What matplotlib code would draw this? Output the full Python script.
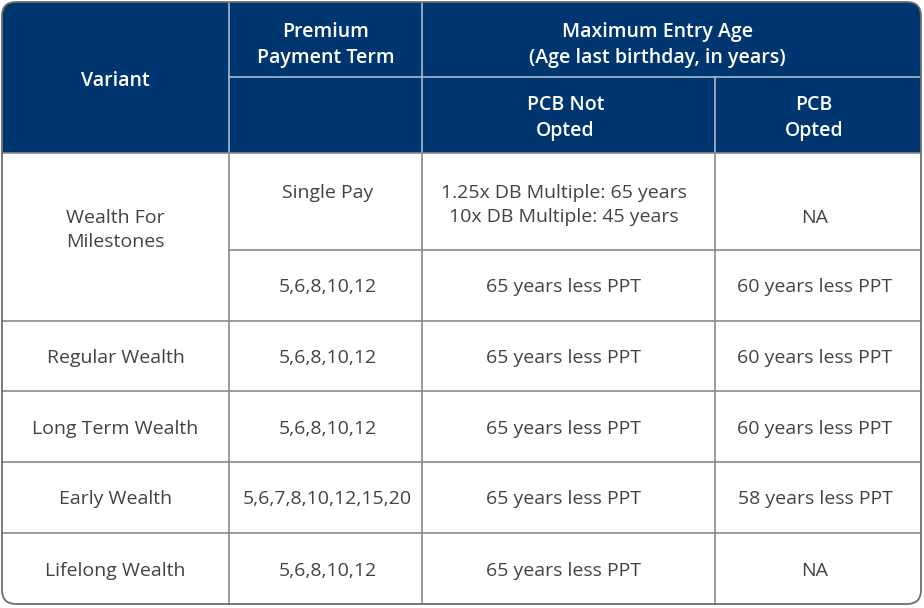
import matplotlib.pyplot as plt
from matplotlib.patches import FancyBboxPatch, Rectangle

plt.rcParams['font.family'] = ['Open Sans', 'DejaVu Sans']

# table content
variants = ["Wealth For\nMilestones", "Regular Wealth", "Long Term Wealth",
            "Early Wealth", "Lifelong Wealth"]
ppt = ["Single Pay", "5,6,8,10,12", "5,6,8,10,12", "5,6,8,10,12",
       "5,6,7,8,10,12,15,20", "5,6,8,10,12"]
pcb_not = ["1.25x DB Multiple: 65 years\n10x DB Multiple: 45 years",
           "65 years less PPT", "65 years less PPT", "65 years less PPT",
           "65 years less PPT", "65 years less PPT"]
pcb_opted = ["NA", "60 years less PPT", "60 years less PPT", "60 years less PPT",
             "58 years less PPT", "NA"]
head_top = ["Variant", "Premium\nPayment Term",
            "Maximum Entry Age\n(Age last birthday, in years)"]
head_sub = ["PCB Not\nOpted", "PCB\nOpted"]

# layout in pixels
W, H = 924, 608
cols = [2, 229, 422, 715, 921]
head_rows = [2, 77, 153]
body_rows = [153, 250, 321, 391, 462, 533, 604]

navy = '#003670'
txt = '#46423f'
grid = '#8a8a8a'
head_line = '#a9b8cc'

fig = plt.figure(figsize=(W / 100, H / 100), dpi=100)
ax = fig.add_axes([0, 0, 1, 1])
ax.set_xlim(0, W)
ax.set_ylim(H, 0)
ax.axis('off')

outline = FancyBboxPatch((cols[0], head_rows[0]), cols[-1] - cols[0],
                         body_rows[-1] - head_rows[0],
                         boxstyle="round,pad=0,rounding_size=14",
                         facecolor='white', edgecolor='none', zorder=0)
ax.add_patch(outline)

hdr = Rectangle((cols[0], head_rows[0]), cols[-1] - cols[0],
                head_rows[-1] - head_rows[0], facecolor=navy,
                edgecolor='none', zorder=1)
ax.add_patch(hdr)
hdr.set_clip_path(outline)

# header lines
for x in cols[1:4]:
    y0 = head_rows[0] if x != cols[3] else head_rows[1]
    ax.plot([x, x], [y0, head_rows[-1]], color=head_line, lw=1.2, zorder=2)
ax.plot([cols[1], cols[-1]], [head_rows[1], head_rows[1]],
        color=head_line, lw=1.2, zorder=2)

# body lines
for x in cols[1:4]:
    ax.plot([x, x], [body_rows[0], body_rows[-1]], color=grid, lw=1.2, zorder=2)
ax.plot([cols[1], cols[-1]], [body_rows[1], body_rows[1]], color=grid, lw=1.2, zorder=2)
for y in body_rows[2:-1]:
    ax.plot([cols[0], cols[-1]], [y, y], color=grid, lw=1.2, zorder=2)
ax.plot([cols[0], cols[-1]], [body_rows[0], body_rows[0]], color=grid, lw=1.2, zorder=2)

border = FancyBboxPatch((cols[0], head_rows[0]), cols[-1] - cols[0],
                        body_rows[-1] - head_rows[0],
                        boxstyle="round,pad=0,rounding_size=14",
                        facecolor='none', edgecolor='#6e6e6e', lw=1.3, zorder=3)
ax.add_patch(border)

def cx(i, j=None):
    j = i + 1 if j is None else j
    return (cols[i] + cols[j]) / 2

# small horizontal nudges so text sits where it does in the source
dx = [0, 2, -5, -3]

fs = 14
hkw = dict(color='white', fontsize=fs, fontweight='semibold',
           ha='center', va='center', linespacing=1.4, zorder=4)
ax.text(cx(0), 81, head_top[0], **hkw)
ax.text(cx(1), 45, head_top[1], **hkw)
ax.text(cx(2, 4) - 14, 45, head_top[2], **hkw)
ax.text(cx(2) - 3, 118, head_sub[0], **hkw)
ax.text(cx(3) - 4, 118, head_sub[1], **hkw)

bkw = dict(color=txt, fontsize=fs, ha='center', va='center',
           linespacing=1.4, zorder=4)
row_y = [(body_rows[k] + body_rows[k + 1]) / 2 + 2 for k in range(6)]
ax.text(cx(0), 230, variants[0], **bkw)
for k in range(1, 5):
    ax.text(cx(0), row_y[k + 1], variants[k], **bkw)
ax.text(cx(1) + dx[1], 193, ppt[0], **bkw)
ax.text(cx(2) + dx[2], 205, pcb_not[0], **bkw)
ax.text(cx(3) + dx[3], 218, pcb_opted[0], **bkw)
for k in range(1, 6):
    ax.text(cx(1) + dx[1], row_y[k], ppt[k], **bkw)
    ax.text(cx(2) + dx[2], row_y[k], pcb_not[k], **bkw)
    ax.text(cx(3) + dx[3], row_y[k], pcb_opted[k], **bkw)

fig.savefig("out.png", dpi=100)
